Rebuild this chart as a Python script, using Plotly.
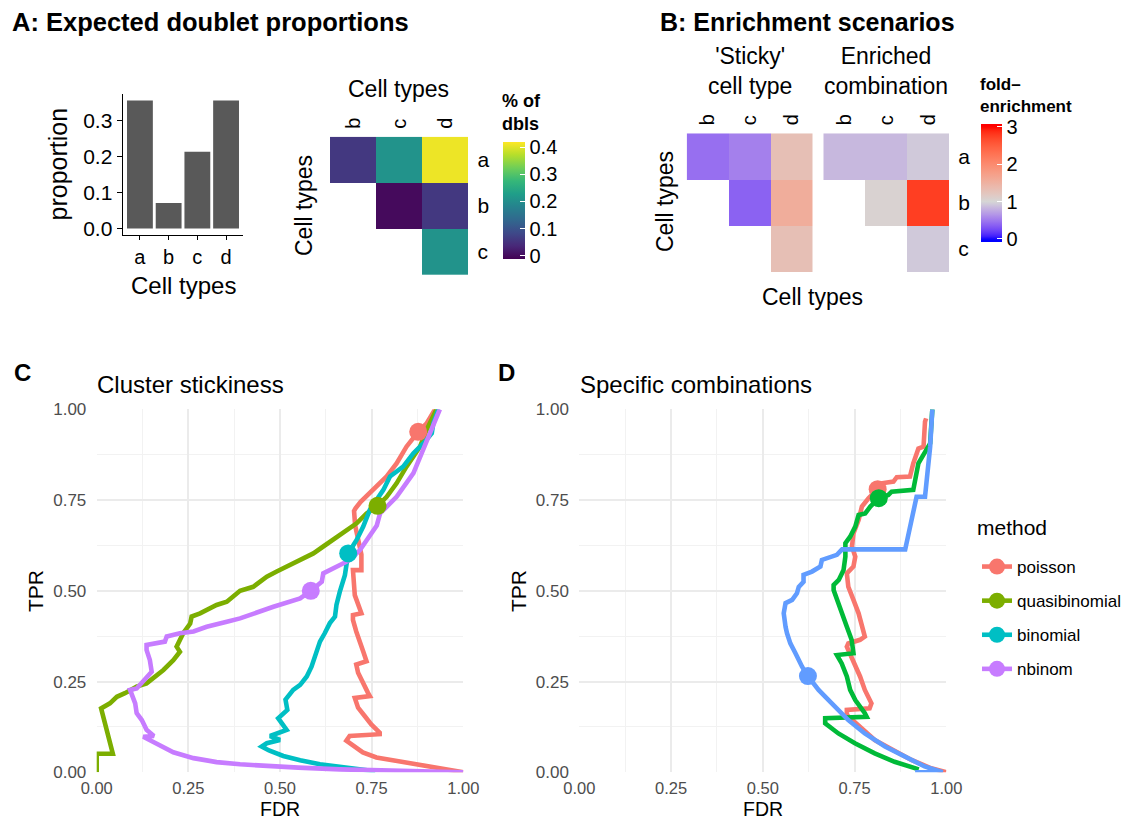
import plotly.graph_objects as go

W, H = 1135, 822
FONT = "Liberation Sans, Arial, sans-serif"


def fx(p):
    return p / W


def fy(p):
    return 1 - p / H


# ---------------- data ----------------
bar_types = ["a", "b", "c", "d"]
bar_props = [0.357, 0.071, 0.214, 0.357]

hm_cols = ["b", "c", "d"]
hm_rows = ["a", "b", "c"]
dbl_pct = [[0.06, 0.21, 0.41], [None, 0.0, 0.06], [None, None, 0.21]]

sticky_fold = [[0.45, 0.54, 1.31], [None, 0.38, 1.56], [None, None, 1.31]]
enriched_fold = [[0.84, 0.84, 0.93], [None, 1.05, 2.76], [None, None, 0.93]]

methods = ["poisson", "quasibinomial", "binomial", "nbinom"]

# Panel C: cluster stickiness
c_poisson_fdr = [1.0, 0.971, 0.917, 0.862, 0.808, 0.763, 0.726, 0.699, 0.681, 0.69, 0.772, 0.772, 0.749, 0.731,
                 0.713, 0.704, 0.745, 0.74, 0.726, 0.713, 0.708, 0.736, 0.727, 0.717, 0.708, 0.699, 0.699, 0.722,
                 0.713, 0.704, 0.699, 0.722, 0.722, 0.712, 0.705, 0.702, 0.706, 0.72, 0.738, 0.764, 0.791, 0.818,
                 0.845, 0.877, 0.9, 0.923]
c_poisson_tpr = [0.0, 0.005, 0.012, 0.021, 0.032, 0.041, 0.055, 0.073, 0.087, 0.1, 0.105, 0.109, 0.132, 0.155,
                 0.178, 0.205, 0.21, 0.219, 0.251, 0.274, 0.297, 0.306, 0.333, 0.36, 0.388, 0.42, 0.433, 0.438,
                 0.461, 0.488, 0.557, 0.557, 0.6, 0.64, 0.68, 0.72, 0.727, 0.745, 0.762, 0.787, 0.815, 0.851,
                 0.897, 0.938, 0.961, 1.0]

c_quasi_fdr = [0.0, 0.0, 0.044, 0.012, 0.036, 0.055, 0.077, 0.095, 0.109, 0.136, 0.155, 0.182, 0.209, 0.227,
               0.218, 0.236, 0.255, 0.259, 0.282, 0.309, 0.327, 0.355, 0.373, 0.391, 0.427, 0.464, 0.491, 0.518,
               0.555, 0.591, 0.618, 0.645, 0.682, 0.709, 0.736, 0.766, 0.791, 0.818, 0.845, 0.864, 0.882, 0.9,
               0.927]
c_quasi_tpr = [0.0, 0.051, 0.051, 0.176, 0.19, 0.208, 0.218, 0.227, 0.236, 0.245, 0.259, 0.282, 0.309, 0.332,
               0.346, 0.383, 0.41, 0.429, 0.438, 0.452, 0.461, 0.47, 0.484, 0.5, 0.511, 0.539, 0.553, 0.567,
               0.585, 0.603, 0.622, 0.64, 0.668, 0.686, 0.713, 0.734, 0.759, 0.796, 0.842, 0.87, 0.897, 0.943,
               1.0]

c_binom_fdr = [0.76, 0.715, 0.664, 0.609, 0.555, 0.509, 0.47, 0.45, 0.464, 0.5, 0.473, 0.491, 0.518, 0.495,
               0.52, 0.515, 0.536, 0.555, 0.573, 0.586, 0.6, 0.609, 0.622, 0.636, 0.65, 0.654, 0.663, 0.677,
               0.686, 0.709, 0.727, 0.745, 0.782, 0.8, 0.836, 0.864, 0.891, 0.914, 0.918, 0.932]
c_binom_tpr = [0.003, 0.008, 0.014, 0.022, 0.033, 0.045, 0.06, 0.071, 0.08, 0.089, 0.1, 0.107, 0.117, 0.149,
               0.172, 0.2, 0.227, 0.241, 0.264, 0.291, 0.33, 0.36, 0.383, 0.411, 0.429, 0.461, 0.497, 0.543,
               0.603, 0.64, 0.677, 0.723, 0.778, 0.815, 0.842, 0.879, 0.906, 0.934, 0.961, 1.0]

c_nbinom_fdr = [1.0, 0.8, 0.664, 0.55, 0.45, 0.391, 0.327, 0.264, 0.209, 0.164, 0.127, 0.156, 0.136, 0.123,
                0.109, 0.105, 0.091, 0.109, 0.118, 0.127, 0.141, 0.15, 0.145, 0.136, 0.136, 0.164, 0.186, 0.191,
                0.227, 0.264, 0.3, 0.355, 0.391, 0.482, 0.555, 0.584, 0.614, 0.618, 0.655, 0.691, 0.718, 0.745,
                0.764, 0.773, 0.818, 0.864, 0.891, 0.918, 0.936]
c_nbinom_tpr = [0.0, 0.003, 0.008, 0.013, 0.018, 0.022, 0.028, 0.039, 0.055, 0.078, 0.098, 0.1, 0.117, 0.144,
                0.163, 0.19, 0.227, 0.231, 0.241, 0.254, 0.268, 0.277, 0.309, 0.337, 0.351, 0.355, 0.36, 0.374,
                0.383, 0.388, 0.401, 0.415, 0.424, 0.456, 0.479, 0.5, 0.525, 0.548, 0.567, 0.585, 0.612, 0.649,
                0.68, 0.713, 0.759, 0.824, 0.888, 0.952, 1.0]

c_dot_fdr = [0.877, 0.766, 0.686, 0.584]
c_dot_tpr = [0.938, 0.734, 0.603, 0.5]

# Panel D: specific combinations
d_poisson_fdr = [1.0, 0.959, 0.905, 0.851, 0.805, 0.76, 0.729, 0.729, 0.791, 0.796, 0.778, 0.765, 0.747, 0.729,
                 0.733, 0.765, 0.778, 0.769, 0.761, 0.747, 0.733, 0.729, 0.747, 0.752, 0.743, 0.747, 0.761, 0.77,
                 0.788, 0.815, 0.824, 0.856, 0.865, 0.901, 0.91, 0.924, 0.938, 0.942, 0.945]
d_poisson_tpr = [0.0, 0.011, 0.034, 0.062, 0.089, 0.13, 0.158, 0.172, 0.176, 0.19, 0.227, 0.264, 0.309, 0.346,
                 0.355, 0.365, 0.374, 0.41, 0.438, 0.475, 0.511, 0.548, 0.567, 0.594, 0.622, 0.658, 0.695, 0.732,
                 0.755, 0.782, 0.796, 0.801, 0.813, 0.815, 0.851, 0.892, 0.897, 0.966, 0.975]

d_quasi_fdr = [0.925, 0.859, 0.805, 0.751, 0.706, 0.67, 0.67, 0.783, 0.778, 0.765, 0.752, 0.738, 0.729, 0.715,
               0.702, 0.747, 0.742, 0.729, 0.715, 0.702, 0.693, 0.693, 0.707, 0.72, 0.725, 0.725, 0.738, 0.752,
               0.761, 0.779, 0.793, 0.816, 0.842, 0.851, 0.91, 0.924, 0.933, 0.956, 0.96, 0.962]
d_quasi_tpr = [0.008, 0.029, 0.052, 0.08, 0.107, 0.135, 0.149, 0.153, 0.163, 0.181, 0.199, 0.227, 0.264, 0.3,
               0.323, 0.328, 0.365, 0.401, 0.438, 0.475, 0.502, 0.516, 0.53, 0.557, 0.594, 0.631, 0.649, 0.677,
               0.709, 0.713, 0.732, 0.755, 0.764, 0.773, 0.778, 0.851, 0.865, 0.906, 0.971, 1.0]

d_binom_fdr = [0.915, 0.99, 0.941, 0.887, 0.833, 0.778, 0.733, 0.688, 0.652, 0.623, 0.607, 0.589, 0.575, 0.566,
               0.562, 0.557, 0.562, 0.58, 0.593, 0.598, 0.611, 0.611, 0.634, 0.657, 0.661, 0.702, 0.716, 0.888,
               0.919, 0.942, 0.956, 0.962]
d_binom_tpr = [0.0, 0.0, 0.016, 0.043, 0.071, 0.107, 0.144, 0.19, 0.227, 0.265, 0.291, 0.328, 0.355, 0.383,
               0.401, 0.438, 0.466, 0.475, 0.493, 0.511, 0.525, 0.544, 0.553, 0.567, 0.585, 0.599, 0.614, 0.614,
               0.759, 0.759, 0.897, 1.0]

d_dot_fdr = [0.813, 0.816, 0.623]
d_dot_tpr = [0.78, 0.755, 0.265]

pal_c = ["#F8766D", "#7CAE00", "#00BFC4", "#C77CFF"]
pal_d = ["#F8766D", "#00BA38", "#619CFF"]


# ---------------- Lab colour ramp (blue - grey - red) ----------------
def hex_to_lab(h):
    r, g, b = [int(h[i:i + 2], 16) / 255 for i in (1, 3, 5)]

    def lin(c):
        return c / 12.92 if c <= 0.04045 else ((c + 0.055) / 1.055) ** 2.4
    r, g, b = lin(r), lin(g), lin(b)
    X = (0.4124 * r + 0.3576 * g + 0.1805 * b) / 0.95047
    Y = 0.2126 * r + 0.7152 * g + 0.0722 * b
    Z = (0.0193 * r + 0.1192 * g + 0.9505 * b) / 1.08883

    def f(t):
        return t ** (1 / 3) if t > 0.008856 else 7.787 * t + 16 / 116
    return (116 * f(Y) - 16, 500 * (f(X) - f(Y)), 200 * (f(Y) - f(Z)))


def lab_to_rgb(L, a, b):
    fy_ = (L + 16) / 116
    fx_ = fy_ + a / 500
    fz_ = fy_ - b / 200

    def finv(t):
        return t ** 3 if t ** 3 > 0.008856 else (t - 16 / 116) / 7.787
    X, Y, Z = finv(fx_) * 0.95047, finv(fy_), finv(fz_) * 1.08883
    r = 3.2406 * X - 1.5372 * Y - 0.4986 * Z
    g = -0.9689 * X + 1.8758 * Y + 0.0415 * Z
    bb = 0.0557 * X - 0.2040 * Y + 1.0570 * Z

    def gam(c):
        c = max(0.0, min(1.0, c))
        return 12.92 * c if c <= 0.0031308 else 1.055 * c ** (1 / 2.4) - 0.055
    return "rgb(%d,%d,%d)" % tuple(round(gam(c) * 255) for c in (r, g, bb))


LOW, MID, HIGH = hex_to_lab("#0000FF"), hex_to_lab("#D6D6D6"), hex_to_lab("#FF0000")
B_ZMIN, B_ZMAX = -0.079, 3.079


def fold_colour(v):
    if v <= 0:
        return lab_to_rgb(*LOW)
    if v <= 1:
        t = v
        return lab_to_rgb(*[LOW[i] + (MID[i] - LOW[i]) * t for i in range(3)])
    if v <= 3:
        t = (v - 1) / 2
        return lab_to_rgb(*[MID[i] + (HIGH[i] - MID[i]) * t for i in range(3)])
    return lab_to_rgb(*HIGH)


fold_scale = []
NS = 64
for k in range(NS + 1):
    pos = k / NS
    v = B_ZMIN + pos * (B_ZMAX - B_ZMIN)
    fold_scale.append([pos, fold_colour(v)])

A_ZMIN, A_ZMAX = -0.0105, 0.4205

fig = go.Figure()

# ---------------- Panel A: bar chart ----------------
fig.add_trace(go.Bar(x=bar_types, y=bar_props, marker=dict(color="#595959", line=dict(width=0)),
                     width=0.9, xaxis="x", yaxis="y", showlegend=False))

# ---------------- Panel A: heatmap ----------------
fig.add_trace(go.Heatmap(x=hm_cols, y=hm_rows, z=dbl_pct, colorscale="Viridis", zmin=A_ZMIN, zmax=A_ZMAX,
                         xaxis="x2", yaxis="y2", showscale=True, hoverongaps=False,
                         colorbar=dict(x=fx(503), xanchor="left", y=fy(200), yanchor="middle",
                                       len=117 / H, lenmode="fraction", thickness=22, outlinewidth=0,
                                       tickvals=[0, 0.1, 0.2, 0.3, 0.4], ticktext=["0", "0.1", "0.2", "0.3", "0.4"],
                                       ticks="inside", ticklen=5, tickcolor="white", tickwidth=1,
                                       tickfont=dict(size=20, color="black", family=FONT), xpad=0, ypad=0)))

# ---------------- Panel B: heatmaps ----------------
fig.add_trace(go.Heatmap(x=hm_cols, y=hm_rows, z=sticky_fold, colorscale=fold_scale, zmin=B_ZMIN, zmax=B_ZMAX,
                         xaxis="x3", yaxis="y3", showscale=False, hoverongaps=False))
fig.add_trace(go.Heatmap(x=hm_cols, y=hm_rows, z=enriched_fold, colorscale=fold_scale, zmin=B_ZMIN, zmax=B_ZMAX,
                         xaxis="x4", yaxis="y4", showscale=True, hoverongaps=False,
                         colorbar=dict(x=fx(980.7), xanchor="left", y=fy(182.85), yanchor="middle",
                                       len=117.7 / H, lenmode="fraction", thickness=21, outlinewidth=0,
                                       tickvals=[0, 1, 2, 3], ticktext=["0", "1", "2", "3"],
                                       ticks="inside", ticklen=5, tickcolor="white", tickwidth=1,
                                       tickfont=dict(size=20, color="black", family=FONT), xpad=0, ypad=0)))

# ---------------- Panel C ----------------
LW = 4.6
c_lines = [(c_poisson_fdr, c_poisson_tpr), (c_quasi_fdr, c_quasi_tpr),
           (c_binom_fdr, c_binom_tpr), (c_nbinom_fdr, c_nbinom_tpr)]
for i, (xs, ys) in enumerate(c_lines):
    fig.add_trace(go.Scatter(x=xs, y=ys, mode="lines", line=dict(color=pal_c[i], width=LW),
                             xaxis="x5", yaxis="y5", showlegend=False, legendgroup=methods[i]))
for i in range(4):
    fig.add_trace(go.Scatter(x=[c_dot_fdr[i]], y=[c_dot_tpr[i]], mode="lines+markers", name=methods[i],
                             line=dict(color=pal_c[i], width=LW), marker=dict(color=pal_c[i], size=18),
                             xaxis="x5", yaxis="y5", showlegend=True, legendgroup=methods[i]))

# ---------------- Panel D ----------------
d_lines = [(d_poisson_fdr, d_poisson_tpr), (d_quasi_fdr, d_quasi_tpr), (d_binom_fdr, d_binom_tpr)]
for i, (xs, ys) in enumerate(d_lines):
    fig.add_trace(go.Scatter(x=xs, y=ys, mode="lines", line=dict(color=pal_d[i], width=LW),
                             xaxis="x6", yaxis="y6", showlegend=False))
for i in range(3):
    fig.add_trace(go.Scatter(x=[d_dot_fdr[i]], y=[d_dot_tpr[i]], mode="markers",
                             marker=dict(color=pal_d[i], size=18), xaxis="x6", yaxis="y6", showlegend=False))

# ---------------- axes ----------------
hidden = dict(showgrid=False, zeroline=False, showline=False, automargin=False)

bar_x = dict(domain=[fx(122.7), fx(243.3)], anchor="y", type="category", range=[-0.6, 3.6],
             showline=True, linecolor="black", linewidth=1.3, ticks="outside", ticklen=4, tickcolor="black",
             tickwidth=1.3, tickfont=dict(size=20, color="black"), showgrid=False, zeroline=False,
             automargin=False)
bar_y = dict(domain=[fy(235), fy(94)], anchor="x", range=[-0.018, 0.375], tickvals=[0, 0.1, 0.2, 0.3],
             ticktext=["0.0", "0.1", "0.2", "0.3"], showline=True, linecolor="black", linewidth=1.3,
             ticks="outside", ticklen=5, tickcolor="black", tickwidth=1.3, tickfont=dict(size=21, color="black"),
             showgrid=False, zeroline=False, automargin=False)


def hm_x(d0, d1, anchor):
    return dict(domain=[fx(d0), fx(d1)], anchor=anchor, side="top", type="category", range=[-0.5, 2.5],
                tickangle=-90, ticks="outside", ticklen=3, tickcolor="rgba(0,0,0,0)",
                tickfont=dict(size=20, color="black"), **hidden)


def hm_y(d0, d1, anchor, labels=True):
    return dict(domain=[fy(d1), fy(d0)], anchor=anchor, side="right", type="category",
                range=[2.5, -0.5], ticks="outside", ticklen=4, tickcolor="rgba(0,0,0,0)",
                showticklabels=labels, tickfont=dict(size=21, color="black"), **hidden)


def roc_x(d0, d1, anchor):
    return dict(domain=[fx(d0), fx(d1)], anchor=anchor, range=[0, 1], tickvals=[0, 0.25, 0.5, 0.75, 1],
                ticktext=["0.00", "0.25", "0.50", "0.75", "1.00"], ticks="outside", ticklen=1,
                tickcolor="rgba(0,0,0,0)", tickfont=dict(size=16.5, color="#4D4D4D"),
                showgrid=True, gridcolor="#EBEBEB", gridwidth=1.8, zeroline=False, showline=False,
                automargin=False,
                minor=dict(dtick=0.125, tick0=0, showgrid=True, gridcolor="#F2F2F2", gridwidth=1.1))


def roc_y(d0, d1, anchor):
    return dict(domain=[fy(d1), fy(d0)], anchor=anchor, range=[0, 1], tickvals=[0, 0.25, 0.5, 0.75, 1],
                ticktext=["0.00", "0.25", "0.50", "0.75", "1.00"], ticks="outside", ticklen=6,
                tickcolor="rgba(0,0,0,0)", tickfont=dict(size=17, color="#4D4D4D"),
                showgrid=True, gridcolor="#EBEBEB", gridwidth=1.8, zeroline=False, showline=False,
                automargin=False,
                minor=dict(dtick=0.125, tick0=0, showgrid=True, gridcolor="#F2F2F2", gridwidth=1.1))


fig.update_layout(
    width=W, height=H, margin=dict(l=0, r=0, t=0, b=0, pad=0, autoexpand=False), autosize=False,
    paper_bgcolor="white", plot_bgcolor="white",
    font=dict(family=FONT, color="black"),
    bargap=0.1,
    xaxis=bar_x, yaxis=bar_y,
    xaxis2=hm_x(330, 468.3, "y2"), yaxis2=hm_y(136.7, 275, "x2"),
    xaxis3=hm_x(686.7, 812.7, "y3"), yaxis3=hm_y(133.3, 272, "x3", labels=False),
    xaxis4=hm_x(823.3, 949, "y4"), yaxis4=hm_y(133.3, 272, "x4"),
    xaxis5=roc_x(96.7, 463.3, "y5"), yaxis5=roc_y(409.3, 772.3, "x5"),
    xaxis6=roc_x(579.3, 946.3, "y6"), yaxis6=roc_y(409.3, 772.3, "x6"),
    legend=dict(x=fx(977), xanchor="left", y=fy(549), yanchor="top", bgcolor="rgba(0,0,0,0)",
                font=dict(size=17, color="black"), tracegroupgap=9, itemwidth=30),
)


def ann(text, x, y, size, bold=False, angle=0, xanchor="center", color="black", align="center",
        yanchor="middle"):
    if bold:
        text = "<b>" + text + "</b>"
    fig.add_annotation(text=text, x=fx(x), y=fy(y), xref="paper", yref="paper", showarrow=False,
                       xanchor=xanchor, yanchor=yanchor, textangle=angle, align=align, borderpad=0,
                       font=dict(size=size, color=color, family=FONT))


# titles panel A / B
ann("A: Expected doublet proportions", 11, 22, 25.5, bold=True, xanchor="left")
ann("B: Enrichment scenarios", 659, 22, 25, bold=True, xanchor="left")
ann("proportion", 57, 164.5, 25, angle=-90)
ann("Cell types", 183, 285, 24)
ann("Cell types", 398, 89, 23)
ann("Cell types", 304, 206, 23, angle=-90)
ann("% of<br>dbls", 501, 112, 18, bold=True, xanchor="left", align="left")
ann("'Sticky'<br>cell type", 749.5, 71, 23)
ann("Enriched<br>combination", 886, 71, 23)
ann("Cell types", 813, 297, 23)
ann("Cell types", 665, 202, 23, angle=-90)
ann("fold\u2013<br>enrichment", 979, 96, 17, bold=True, xanchor="left", align="left")

# titles panel C / D
ann("C", 13, 372, 24, bold=True, xanchor="left")
ann("D", 497, 372, 24, bold=True, xanchor="left")
ann("Cluster stickiness", 96, 384, 24, xanchor="left")
ann("Specific combinations", 579, 384, 24, xanchor="left")
ann("TPR", 35, 591, 21, angle=-90)
ann("FDR", 280, 821, 19.5, yanchor="bottom")
ann("TPR", 518, 591, 21, angle=-90)
ann("FDR", 763, 821, 19.5, yanchor="bottom")
ann("method", 976, 527, 21, xanchor="left")

fig.write_html("out.html", config={"displayModeBar": False},
               post_script="document.body.style.margin='0';document.body.style.overflow='hidden';")
